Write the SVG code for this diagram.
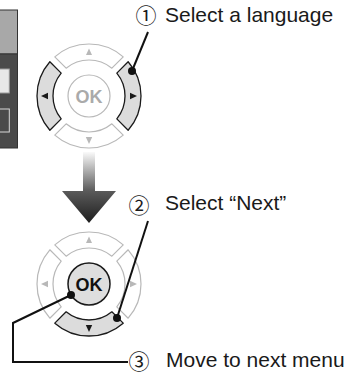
<svg xmlns="http://www.w3.org/2000/svg" xmlns:xlink="http://www.w3.org/1999/xlink" width="360" height="375" viewBox="0 0 360 375">
<defs>
<style>
.lbl{font-family:"Liberation Sans","Noto Sans CJK JP",Arial,sans-serif;font-size:21px;fill:#1a1a1a}
.num{font-family:"Noto Sans CJK JP","DejaVu Sans",sans-serif;font-size:21px;fill:#1a1a1a}
.ok{font-family:"Liberation Sans",Arial,sans-serif;font-size:18px;font-weight:bold;text-anchor:middle}
.segOn{fill:#dcdcdc;stroke:#1a1a1a;stroke-width:1.3;stroke-linejoin:round}
.segOff{fill:#fff;stroke:#b8b8b8;stroke-width:1.2;stroke-linejoin:round}
.triOn{fill:#1a1a1a}
.triOff{fill:#b8b8b8}
.lead{fill:none;stroke:#111;stroke-width:2;stroke-linejoin:miter}
.dot{fill:#111}
</style>
<path id="segR" d="M39.15,-34.22 A52,52 0 0 1 39.15,34.22 L27.81,22.87 A36,36 0 0 0 27.81,-22.87 Z"/>
<path id="segL" d="M-39.15,-34.22 A52,52 0 0 0 -39.15,34.22 L-27.81,22.87 A36,36 0 0 1 -27.81,-22.87 Z"/>
<path id="segT" d="M-34.22,-39.15 A52,52 0 0 1 34.22,-39.15 L22.87,-27.81 A36,36 0 0 0 -22.87,-27.81 Z"/>
<path id="segB" d="M-34.22,39.15 A52,52 0 0 0 34.22,39.15 L22.87,27.81 A36,36 0 0 1 -22.87,27.81 Z"/>
<path id="triR" d="M41,-3.2 L48,0 L41,3.2 Z"/>
<path id="triL" d="M-41,-3.2 L-48,0 L-41,3.2 Z"/>
<path id="triT" d="M-3,-41 L0,-47.5 L3,-41 Z"/>
<path id="triB" d="M-3.2,41 L0,48 L3.2,41 Z"/>
<linearGradient id="arrowGrad" gradientUnits="userSpaceOnUse" x1="0" y1="152" x2="0" y2="223">
<stop offset="0" stop-color="#fafafa"/>
<stop offset="0.55" stop-color="#5a5a5a"/>
<stop offset="1" stop-color="#1e1e1e"/>
</linearGradient>
</defs>
<rect width="360" height="375" fill="#fff"/>

<g id="screen">
<rect x="-1" y="10" width="18.5" height="44" fill="#a8a8a8" stroke="#333" stroke-width="1"/>
<rect x="-1" y="54" width="18.5" height="94" fill="#4a4a4a" stroke="#333" stroke-width="1"/>
<rect x="-1" y="69" width="10.3" height="24" fill="#e8e8e8" stroke="#999" stroke-width="1"/>
<rect x="-1" y="109" width="10.3" height="23" fill="#4a4a4a" stroke="#d8d8d8" stroke-width="1"/>
</g>

<g id="dpad1" transform="translate(89,96)">
<use xlink:href="#segT" class="segOff"/>
<use xlink:href="#segB" class="segOff"/>
<use xlink:href="#segL" class="segOn"/>
<use xlink:href="#segR" class="segOn"/>
<use xlink:href="#triT" class="triOff"/>
<use xlink:href="#triB" class="triOff"/>
<use xlink:href="#triL" class="triOn"/>
<use xlink:href="#triR" class="triOn"/>
<circle r="21" fill="#fff" stroke="#b8b8b8" stroke-width="1.2"/>
<text class="ok" y="6.5" fill="#aaa">OK</text>
</g>

<g id="downArrow">
<path d="M83,152 H95 V191 H116 L89,223 L62,191 H83 Z" fill="url(#arrowGrad)"/>
</g>

<g id="dpad2" transform="translate(89,284)">
<use xlink:href="#segT" class="segOff"/>
<use xlink:href="#segL" class="segOff"/>
<use xlink:href="#segR" class="segOff"/>
<use xlink:href="#segB" class="segOn"/>
<use xlink:href="#triT" class="triOff"/>
<use xlink:href="#triL" class="triOff"/>
<use xlink:href="#triR" class="triOff"/>
<use xlink:href="#triB" class="triOn"/>
<circle r="21" fill="#dedede" stroke="#1a1a1a" stroke-width="1.5"/>
<text class="ok" y="6.5" fill="#111">OK</text>
</g>

<g id="connectors">
<path class="lead" d="M148,32 L132,71"/>
<circle class="dot" cx="132" cy="71" r="4"/>
<path class="lead" d="M148,221 L117,318"/>
<circle class="dot" cx="117" cy="318" r="4"/>
<path class="lead" d="M71,295 L13,323 V362 H128"/>
<circle class="dot" cx="71" cy="295" r="4"/>
</g>

<g id="label1">
<text class="num" x="135.5" y="23">①</text>
<text class="lbl" x="165" y="22">Select a language</text>
</g>
<g id="label2">
<text class="num" x="128.5" y="213">②</text>
<text class="lbl" x="165" y="210">Select “Next”</text>
</g>
<g id="label3">
<text class="num" x="128.5" y="369">③</text>
<text class="lbl" x="166" y="367">Move to next menu</text>
</g>
</svg>
